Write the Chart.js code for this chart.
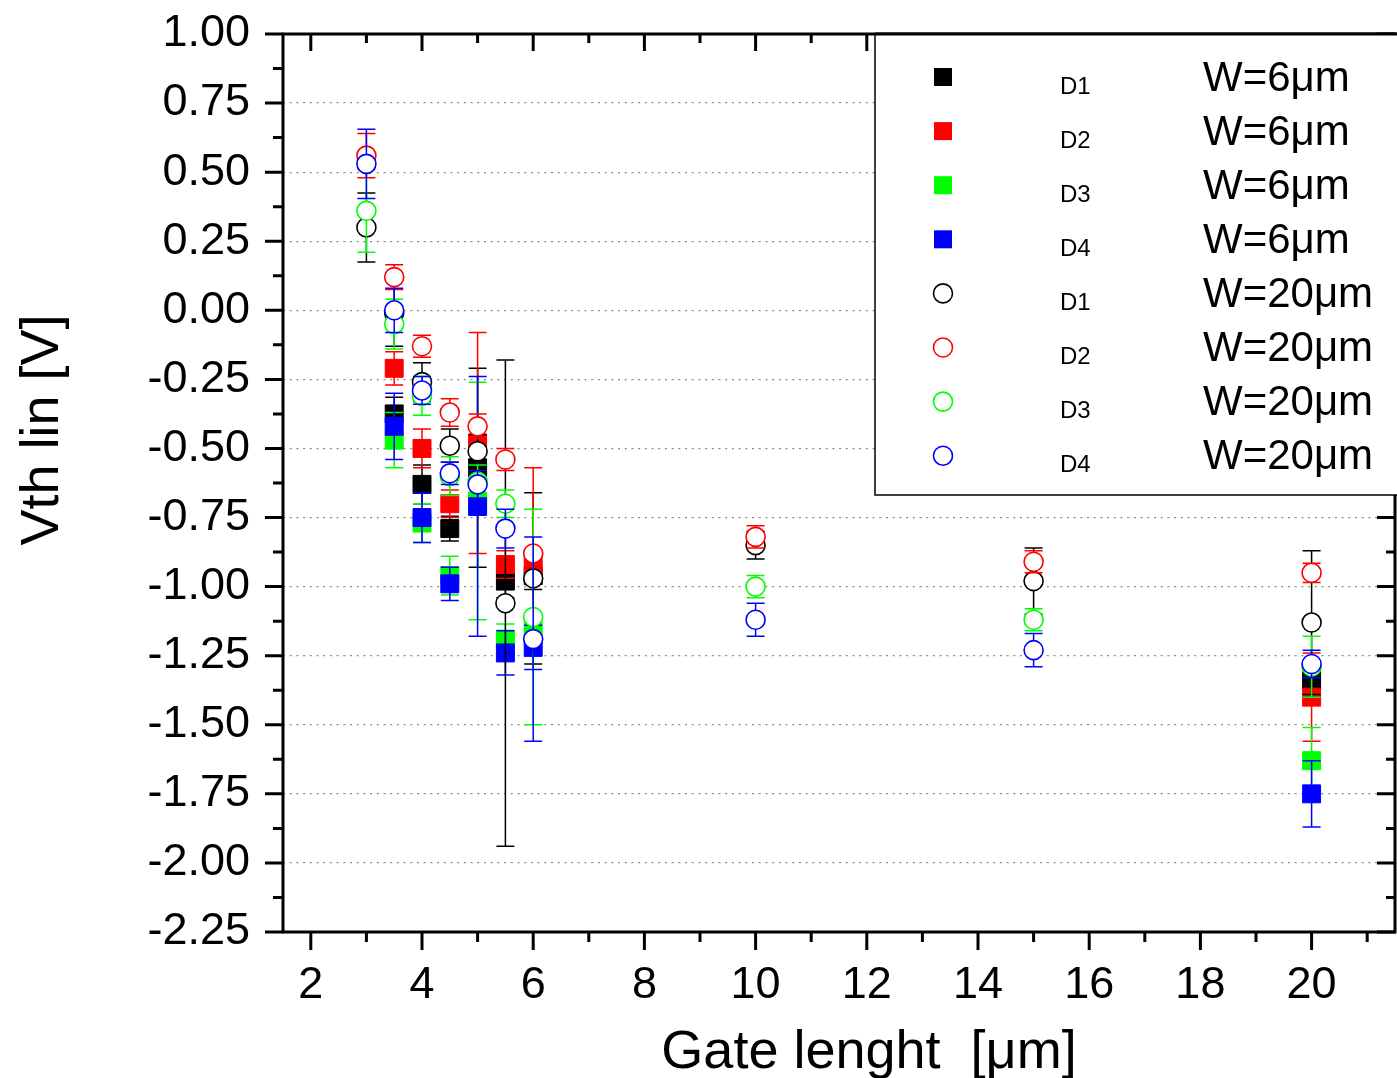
<!DOCTYPE html>
<html>
<head>
<meta charset="utf-8">
<title>Vth lin vs gate length</title>
<script src="https://cdn.jsdelivr.net/npm/chart.js@4.4.1/dist/chart.umd.min.js"></script>
<style>
  html, body { margin: 0; padding: 0; background: #fff; }
</style>
</head>
<body>
<canvas id="vthChart" width="1397" height="1078"></canvas>
<script>
// Axis tick labels and titles
const xTicks = [2, 4, 6, 8, 10, 12, 14, 16, 18, 20];
const yTicks = [1.00, 0.75, 0.50, 0.25, 0.00, -0.25, -0.50, -0.75, -1.00, -1.25, -1.50, -1.75, -2.00, -2.25];
const xTitle = "Gate lenght  [\u03bcm]";
const yTitle = "Vth lin [V]";

// Gate lengths (um)
const lenW6 = [3.5, 4, 4.5, 5, 5.5, 6, 20];
const lenW20 = [3, 3.5, 4, 4.5, 5, 5.5, 6, 10, 15, 20];

// W=6um devices (filled squares): Vth lin and error
const d1W6 = [-0.375, -0.63, -0.79, -0.57, -0.98, -0.96, -1.34];
const d1W6Err = [0.06, 0.07, 0.045, 0.36, 0.06, 0.05, 0.05];
const d2W6 = [-0.21, -0.50, -0.70, -0.48, -0.92, -0.92, -1.40];
const d2W6Err = [0.06, 0.07, 0.05, 0.40, 0.05, 0.05, 0.16];
const d3W6 = [-0.47, -0.77, -0.96, -0.69, -1.19, -1.16, -1.63];
const d3W6Err = [0.10, 0.07, 0.07, 0.43, 0.055, 0.05, 0.12];
const d4W6 = [-0.42, -0.75, -0.99, -0.71, -1.24, -1.22, -1.75];
const d4W6Err = [0.12, 0.09, 0.06, 0.47, 0.08, 0.08, 0.12];

// W=20um devices (open circles)
const d1W20 = [0.30, -0.01, -0.26, -0.49, -0.51, -1.06, -0.97, -0.85, -0.98, -1.13];
const d1W20Err = [0.125, 0.12, 0.07, 0.06, 0.06, 0.88, 0.31, 0.05, 0.12, 0.26];
const d2W20 = [0.56, 0.12, -0.13, -0.37, -0.42, -0.54, -0.88, -0.82, -0.91, -0.95];
const d2W20Err = [0.08, 0.045, 0.04, 0.05, 0.045, 0.04, 0.31, 0.04, 0.04, 0.035];
const d3W20 = [0.36, -0.05, -0.31, -0.60, -0.62, -0.70, -1.11, -1.00, -1.12, -1.29];
const d3W20Err = [0.15, 0.09, 0.07, 0.07, 0.06, 0.05, 0.39, 0.04, 0.04, 0.11];
const d4W20 = [0.53, 0.00, -0.29, -0.59, -0.63, -0.79, -1.19, -1.12, -1.23, -1.28];
const d4W20Err = [0.125, 0.08, 0.05, 0.04, 0.05, 0.07, 0.37, 0.06, 0.06, 0.05];

const FONT = "'Liberation Sans', Arial, sans-serif";

// build {x, y, err} points for the scatter
function pts(xs, ys, errs) {
    return xs.map((x, i) => ({ x: x, y: ys[i], err: errs[i] }));
}

function squareSet(label, unit, color, xs, ys, errs) {
    return {
        label: label, unit: unit,
        data: pts(xs, ys, errs),
        pointStyle: "rect",
        pointRadius: 12.7,
        backgroundColor: color,
        borderColor: color,
        borderWidth: 1
    };
}

function circleSet(label, unit, color, xs, ys, errs) {
    return {
        label: label, unit: unit,
        data: pts(xs, ys, errs),
        pointStyle: "circle",
        pointRadius: 9.5,
        backgroundColor: "#ffffff",
        borderColor: color,
        borderWidth: 1.6
    };
}

const datasets = [
    squareSet("D1", "W=6\u03bcm", "#000000", lenW6, d1W6, d1W6Err),
    squareSet("D2", "W=6\u03bcm", "#ff0000", lenW6, d2W6, d2W6Err),
    squareSet("D3", "W=6\u03bcm", "#00ff00", lenW6, d3W6, d3W6Err),
    squareSet("D4", "W=6\u03bcm", "#0000ff", lenW6, d4W6, d4W6Err),
    circleSet("D1", "W=20\u03bcm", "#000000", lenW20, d1W20, d1W20Err),
    circleSet("D2", "W=20\u03bcm", "#ff0000", lenW20, d2W20, d2W20Err),
    circleSet("D3", "W=20\u03bcm", "#00ff00", lenW20, d3W20, d3W20Err),
    circleSet("D4", "W=20\u03bcm", "#0000ff", lenW20, d4W20, d4W20Err)
];
// later datasets drawn on top
datasets.forEach((ds, i) => { ds.order = datasets.length - 1 - i; });

// error bars, drawn just before each dataset's markers
const errorBars = {
    id: "errorBars",
    beforeDatasetDraw(chart, args) {
        const ds = chart.data.datasets[args.index];
        const yScale = chart.scales.y;
        const ctx = chart.ctx;
        ctx.save();
        ctx.strokeStyle = ds.borderColor;
        ctx.lineWidth = 1.5;
        args.meta.data.forEach((pt, i) => {
            const d = ds.data[i];
            const top = yScale.getPixelForValue(d.y + d.err);
            const bot = yScale.getPixelForValue(d.y - d.err);
            ctx.beginPath();
            ctx.moveTo(pt.x, top); ctx.lineTo(pt.x, bot);
            ctx.moveTo(pt.x - 9, top); ctx.lineTo(pt.x + 9, top);
            ctx.moveTo(pt.x - 9, bot); ctx.lineTo(pt.x + 9, bot);
            ctx.stroke();
        });
        ctx.restore();
    }
};

// frame, tick marks (major + minor, in/out like Origin), axis titles and the boxed legend
const frameAndLegend = {
    id: "frameAndLegend",
    afterDraw(chart) {
        const ctx = chart.ctx;
        const a = chart.chartArea;
        const xs = chart.scales.x, ys = chart.scales.y;
        ctx.save();
        ctx.strokeStyle = "#000";
        ctx.lineWidth = 3;
        ctx.beginPath();
        xTicks.forEach(v => {
            const px = xs.getPixelForValue(v);
            ctx.moveTo(px, a.bottom); ctx.lineTo(px, a.bottom + 18);
            ctx.moveTo(px, a.top); ctx.lineTo(px, a.top + 17);
        });
        for (let v = 3; v <= 21; v += 2) {
            const px = xs.getPixelForValue(v);
            ctx.moveTo(px, a.bottom); ctx.lineTo(px, a.bottom + 10);
            ctx.moveTo(px, a.top); ctx.lineTo(px, a.top + 9);
        }
        yTicks.forEach(v => {
            const py = ys.getPixelForValue(v);
            ctx.moveTo(a.left, py); ctx.lineTo(a.left - 18, py);
            ctx.moveTo(a.right, py); ctx.lineTo(a.right - 18, py);
        });
        for (let i = 0; i < yTicks.length - 1; i++) {
            const py = ys.getPixelForValue((yTicks[i] + yTicks[i + 1]) / 2);
            ctx.moveTo(a.left, py); ctx.lineTo(a.left - 10, py);
            ctx.moveTo(a.right, py); ctx.lineTo(a.right - 9, py);
        }
        ctx.stroke();
        ctx.strokeRect(a.left, a.top, a.right - a.left, a.bottom - a.top);

        // axis titles (sit off-centre in the original)
        ctx.fillStyle = "#000";
        ctx.textAlign = "center";
        ctx.textBaseline = "alphabetic";
        ctx.font = "54px " + FONT;
        ctx.fillText(xTitle, 869, 1068);
        ctx.save();
        ctx.translate(58, 430);
        ctx.rotate(-Math.PI / 2);
        ctx.fillText(yTitle, 0, 0);
        ctx.restore();

        // legend box
        const lx = 875, ly = a.top, lw = 1397 - 875 + 2, lh = 495 - a.top;
        ctx.fillStyle = "#fff";
        ctx.fillRect(lx, ly, lw, lh);
        ctx.lineWidth = 1.5;
        ctx.strokeRect(lx, ly, lw, lh);
        ctx.lineWidth = 3;
        ctx.beginPath();
        ctx.moveTo(lx, a.top); ctx.lineTo(1397, a.top);
        ctx.stroke();

        chart.data.datasets.forEach((ds, i) => {
            const cy = 77 + i * 54.1;
            if (ds.pointStyle === "rect") {
                ctx.fillStyle = ds.backgroundColor;
                ctx.fillRect(943 - 9, cy - 9, 18, 18);
            } else {
                ctx.beginPath();
                ctx.arc(943, cy, 9.5, 0, Math.PI * 2);
                ctx.fillStyle = "#fff";
                ctx.fill();
                ctx.lineWidth = 1.6;
                ctx.strokeStyle = ds.borderColor;
                ctx.stroke();
            }
            ctx.fillStyle = "#000";
            ctx.textBaseline = "middle";
            ctx.textAlign = "left";
            ctx.font = "24px " + FONT;
            ctx.fillText(ds.label, 1060, cy + 10);
            ctx.font = "42px " + FONT;
            ctx.fillText(ds.unit, 1203, cy + 2);
        });
        ctx.restore();
    }
};

// keep the plot box fixed: no extra room for overhanging tick labels
function noOverhang(scale) {
    scale.paddingLeft = 0;
    scale.paddingRight = 0;
    scale.paddingTop = 0;
    scale.paddingBottom = 0;
}

const ctx = document.getElementById("vthChart").getContext("2d");
const vthChart = new Chart(ctx, {
    type: "scatter",
    data: { datasets: datasets },
    plugins: [errorBars, frameAndLegend],
    options: {
        responsive: false,
        animation: false,
        devicePixelRatio: 1,
        layout: { autoPadding: false, padding: { top: 34, right: 2, left: 0, bottom: 0 } },
        plugins: { legend: { display: false }, tooltip: { enabled: false } },
        scales: {
            x: {
                type: "linear",
                min: 1.5,
                max: 21.5,
                afterBuildTicks: (scale) => { scale.ticks = xTicks.map(v => ({ value: v })); },
                afterFit: (scale) => { scale.height = 146; noOverhang(scale); },
                grid: { display: false, drawTicks: false },
                border: { display: false },
                ticks: { color: "#000", padding: 27, font: { family: FONT, size: 45 } },
                title: { display: false }
            },
            y: {
                type: "linear",
                min: -2.25,
                max: 1.0,
                afterBuildTicks: (scale) => { scale.ticks = yTicks.map(v => ({ value: v })); },
                afterFit: (scale) => { scale.width = 283; noOverhang(scale); },
                grid: {
                    drawTicks: false,
                    color: (c) => (c.tick && (c.tick.value === 1 || c.tick.value === -2.25)) ? "rgba(0,0,0,0)" : "#8a8a8a",
                    lineWidth: 1.3
                },
                border: { display: false, dash: [2, 4.7] },
                ticks: {
                    color: "#000",
                    padding: 33,
                    font: { family: FONT, size: 45 },
                    callback: (v) => Number(v).toFixed(2)
                },
                title: { display: false }
            }
        }
    }
});
</script>
</body>
</html>
